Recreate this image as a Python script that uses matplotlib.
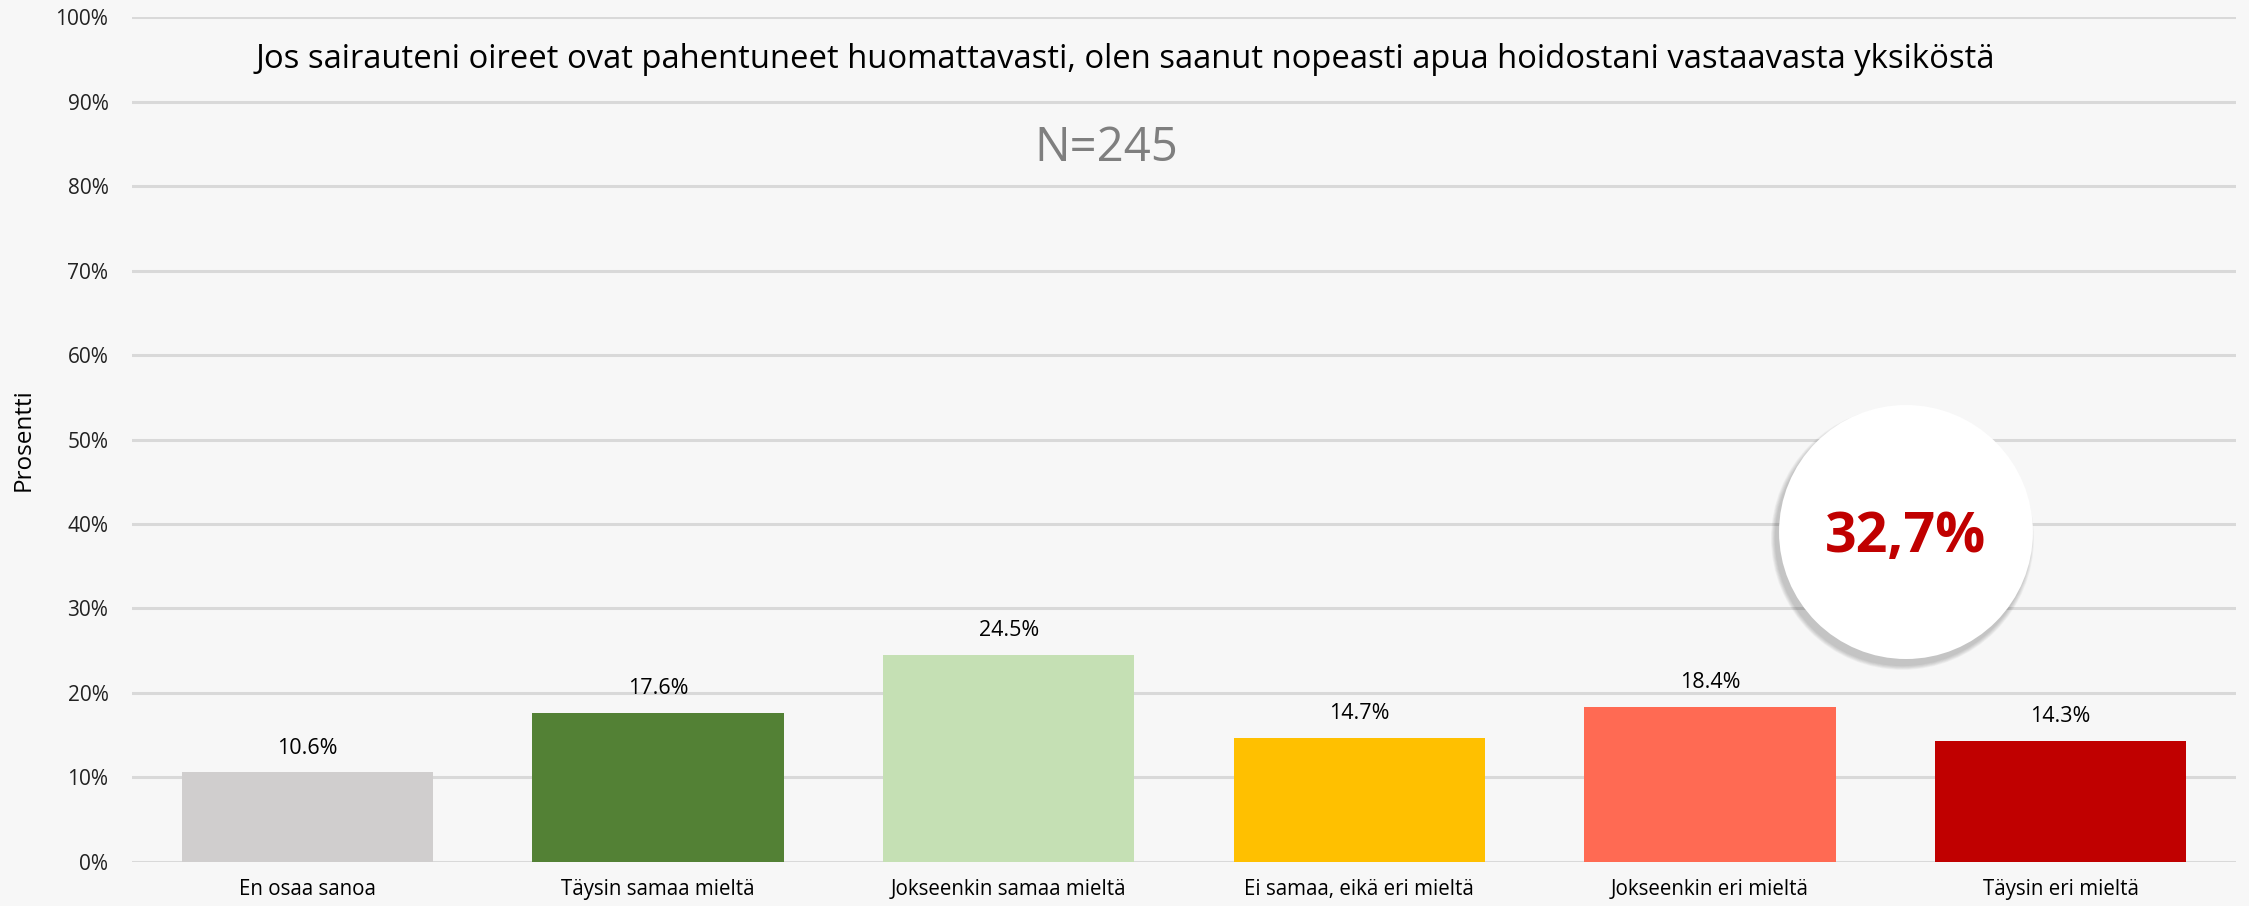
import matplotlib
matplotlib.use("Agg")
import matplotlib.pyplot as plt
from matplotlib.patches import Ellipse
from matplotlib.ticker import PercentFormatter

categories = ["En osaa sanoa", "Täysin samaa mieltä", "Jokseenkin samaa mieltä",
              "Ei samaa, eikä eri mieltä", "Jokseenkin eri mieltä", "Täysin eri mieltä"]
values = [10.6, 17.6, 24.5, 14.7, 18.4, 14.3]
colors = ["#D0CECE", "#538135", "#C5E0B4", "#FFC000", "#FF6A53", "#C00000"]
yticks = [0, 10, 20, 30, 40, 50, 60, 70, 80, 90, 100]
title = "Jos sairauteni oireet ovat pahentuneet huomattavasti, olen saanut nopeasti apua hoidostani vastaavasta yksiköstä"
n_text = "N=245"
highlight = "32,7%"

bg = "#F7F7F7"
txt_font = "Open Sans"

fig = plt.figure(figsize=(22.49, 9.06), dpi=100, facecolor=bg)
ax = fig.add_axes([0.0587, 0.0486, 0.9355, 0.9326], facecolor=bg)

x = list(range(len(categories)))
ax.bar(x, values, width=0.716, color=colors, zorder=2)

for xi, v in zip(x, values):
    ax.annotate(f"{v:.1f}%", (xi, v), xytext=(0, 10), textcoords="offset points",
                ha="center", va="bottom", fontsize=15.5, family=txt_font, color="#000000")

ax.set_xlim(-0.5, len(categories) - 0.5)
ax.set_ylim(0, 100)
ax.set_yticks(yticks)
ax.yaxis.set_major_formatter(PercentFormatter(decimals=0))
ax.set_xticks(x)
ax.set_xticklabels(categories, fontsize=14.8, family=txt_font)
for lab in ax.get_yticklabels():
    lab.set_fontsize(15)
    lab.set_family(txt_font)
    lab.set_color("#222222")
ax.tick_params(axis="both", length=0)
ax.tick_params(axis="x", pad=12)
ax.tick_params(axis="y", pad=17)
ax.grid(axis="y", color="#D9D9D9", linewidth=2.2, zorder=0)
for s in ax.spines.values():
    s.set_visible(False)

ax.set_ylabel("Prosentti", fontsize=17.5, family=txt_font)
ax.yaxis.set_label_coords(-0.0456, 0.5)

# title and N inside the plot area
ax.text(0.472, 0.950, title, transform=ax.transAxes, ha="center", va="center",
        fontsize=23.6, family=txt_font, color="#000000")
ax.text(0.463, 0.845, n_text, transform=ax.transAxes, ha="center", va="center",
        fontsize=34, family=txt_font, color="#7F7F7F")

# highlight circle with soft shadow (lower left)
cx, cy = 4.559, 39.05
w, h = 0.724, 30.06
for i in range(6):
    k = 1.0 + 0.006 * (6 - i)
    ax.add_patch(Ellipse((cx - 0.010, cy - 0.75), w * k, h * k, facecolor="#000000",
                         alpha=0.035, edgecolor="none", zorder=4))
ax.add_patch(Ellipse((cx, cy), w, h, facecolor="#FFFFFF", edgecolor="none", zorder=5))
ax.text(cx, cy - 0.6, highlight, ha="center", va="center", fontsize=40, fontweight="bold",
        family=txt_font, color="#C00000", zorder=6)

fig.savefig("out.png", dpi=100, facecolor=bg)
